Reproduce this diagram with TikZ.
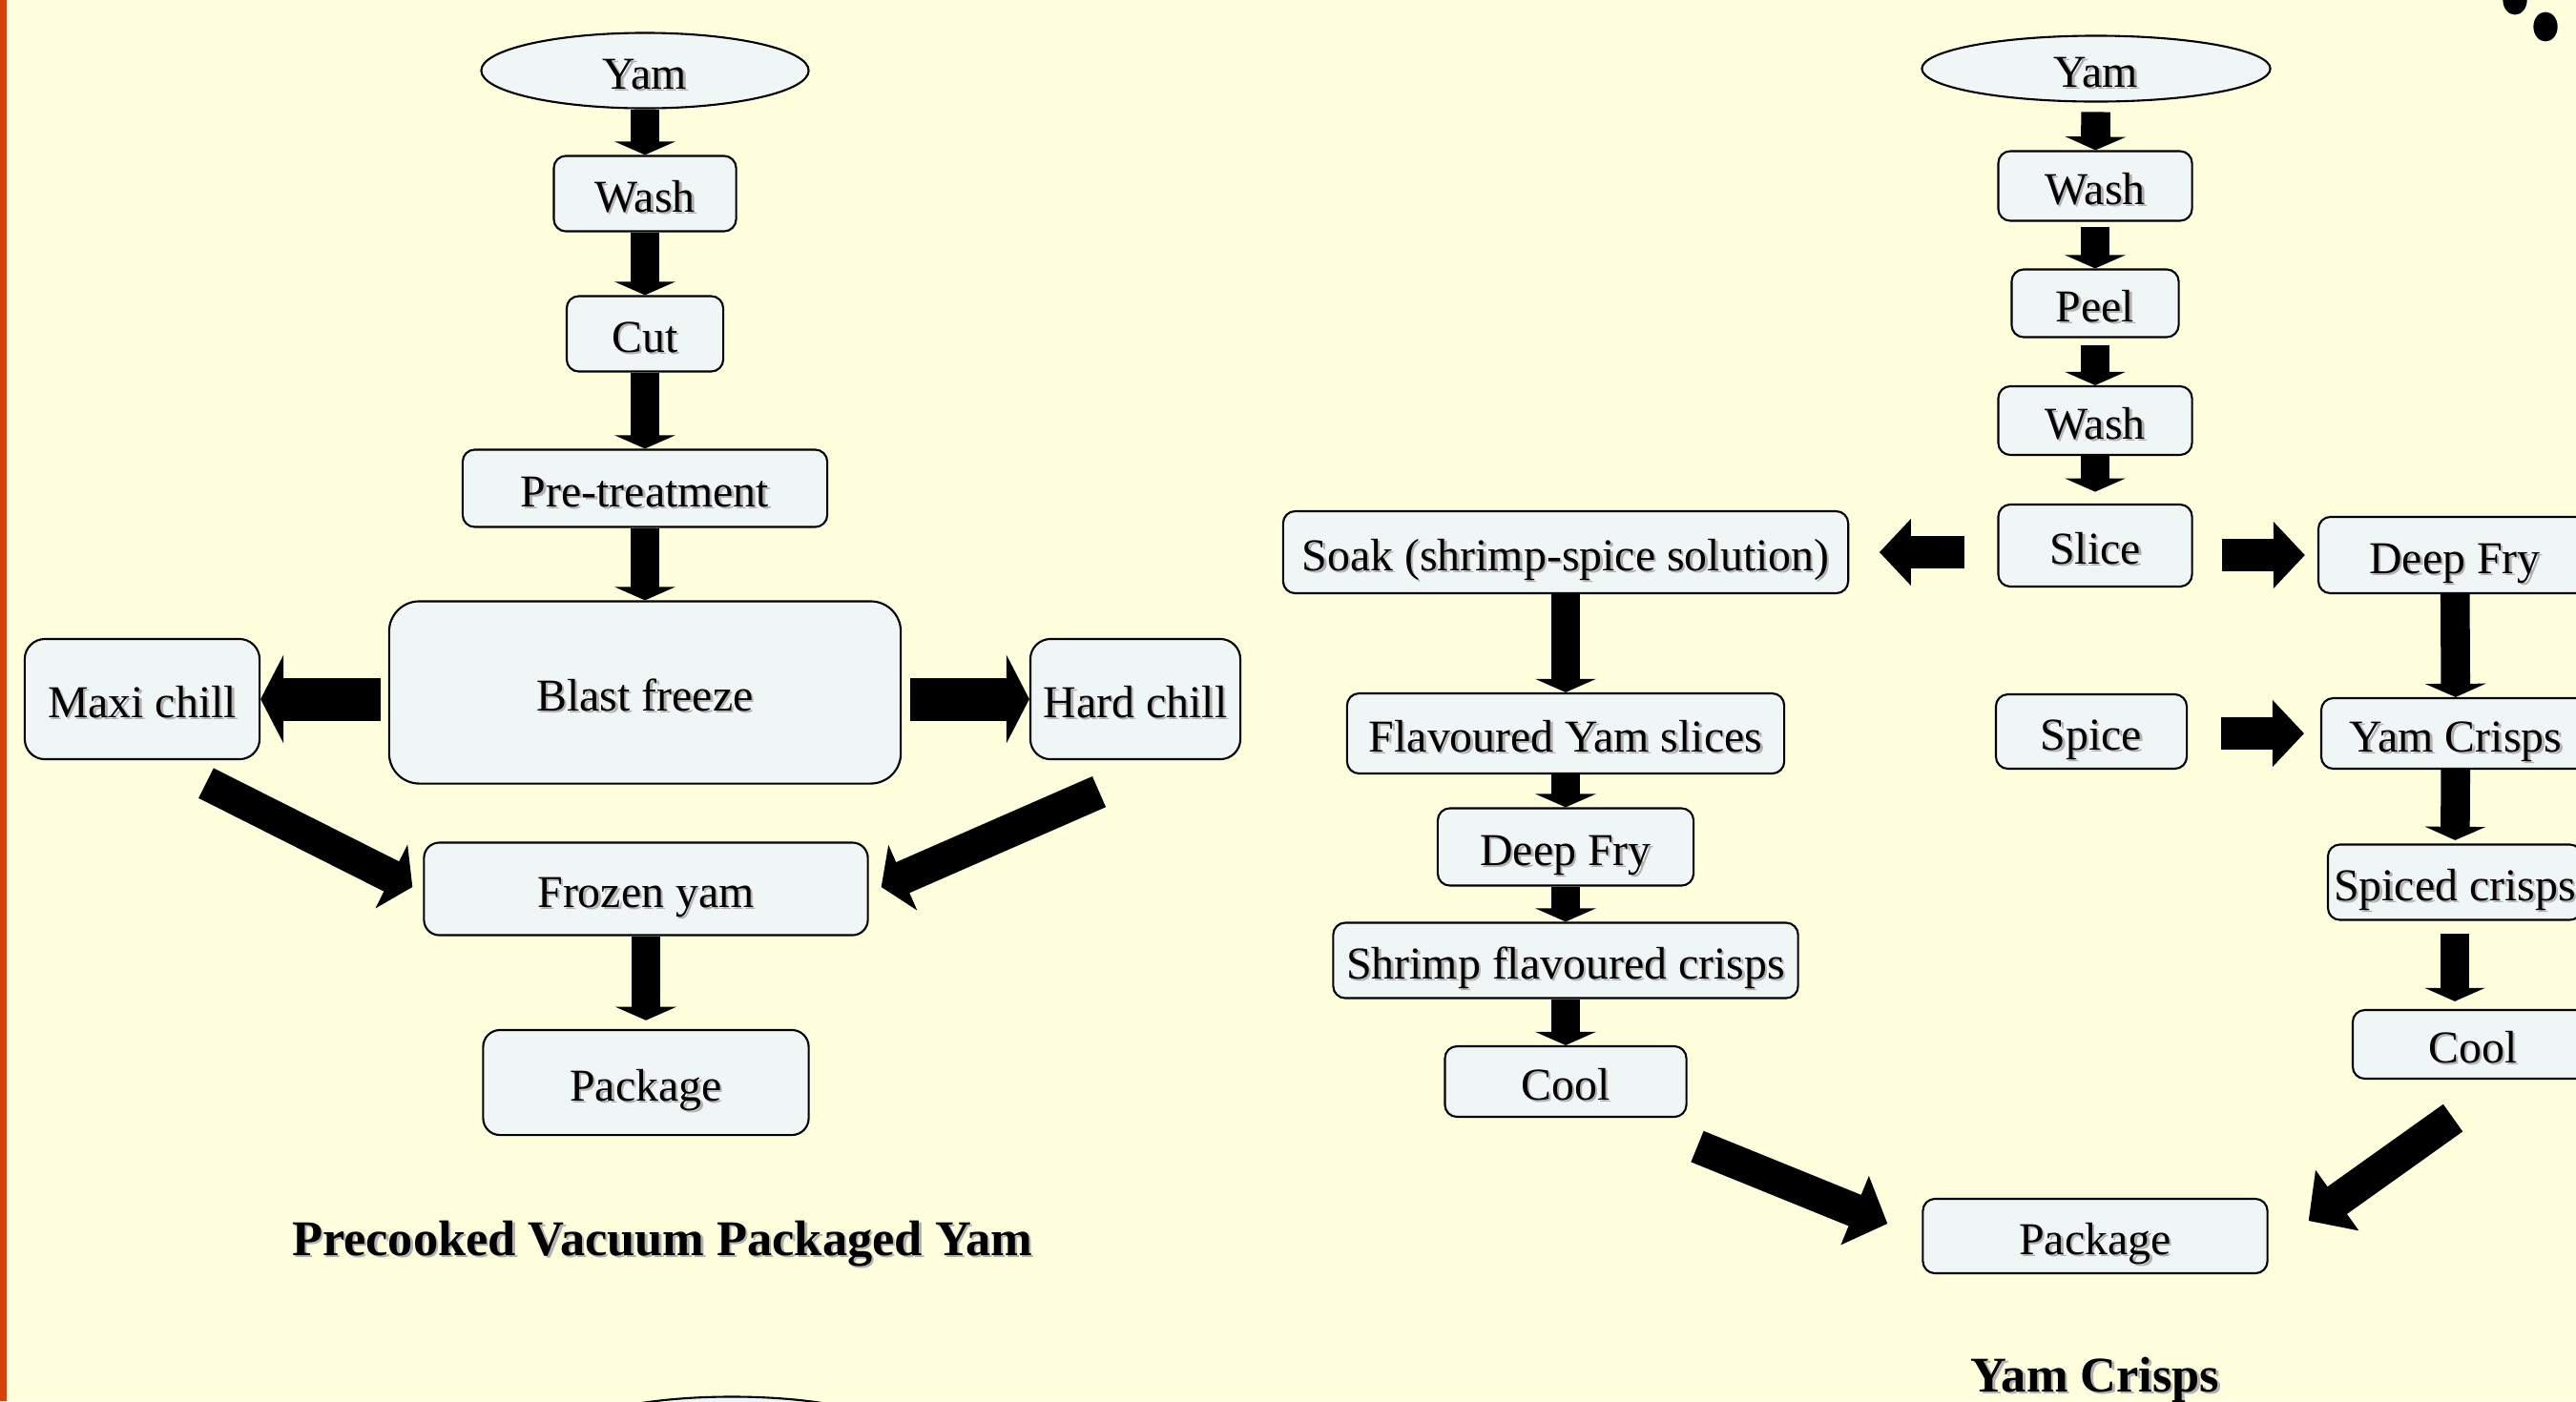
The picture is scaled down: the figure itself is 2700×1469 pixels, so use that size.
\documentclass[tikz,border=0pt]{standalone}
\usepackage{fontspec}
\setmainfont{Liberation Serif}
\usetikzlibrary{shapes.geometric,arrows.meta}

\definecolor{fondo}{RGB}{255,255,221}
\definecolor{cajafondo}{RGB}{240,246,246}
\definecolor{naranja}{RGB}{214,66,14}

\newcommand{\texto}{\fontsize{13.6pt}{16pt}\selectfont}
\newcommand{\titulo}{\fontsize{14.9pt}{18pt}\selectfont\bfseries}
\newcommand{\sombra}[1]{\rlap{\kern0.7pt\raisebox{-0.7pt}{\color{black!30}#1}}#1}

\tikzset{
  caja/.style={draw, line width=0.6pt, rounded corners=3.6pt, fill=cajafondo,
    inner sep=0pt, font=\texto, text height=11pt, text depth=0pt},
  ovalo/.style={ellipse, draw, line width=0.6pt, fill=cajafondo,
    inner sep=0pt, font=\texto, text height=11pt, text depth=0pt},
  flecha/.style={line width=8.7pt, -{Triangle[width=18pt,length=4pt]}},
  flechaH/.style={line width=12.8pt, -{Triangle[width=26pt,length=6.8pt]}},
  flechaR/.style={line width=9.7pt, -{Triangle[width=19.4pt,length=9.4pt]}},
  flechaD/.style={line width=10pt, -{Triangle[width=21pt,length=7pt]}},
  flechaDD/.style={line width=10pt, -{Triangle[width=21.6pt,length=10.5pt]}}
}

\begin{document}
\begin{tikzpicture}[x=0.01cm, y=-0.01cm]
    \useasboundingbox (0,0) rectangle (2700,1469);
    \clip (0,0) rectangle (2700,1469);

    % Fondo
    \fill[fondo] (0,0) rectangle (2700,1469);
    \fill[naranja] (0,0) rectangle (7,1469);
    \fill (2636,0) ellipse [x radius=3.6pt, y radius=4.4pt];
    \fill (2668,28) ellipse [x radius=3.6pt, y radius=4.4pt];

    % Diagrama izquierdo
    \node[ovalo, minimum width=3.43cm, minimum height=0.79cm] (yamA) at (676,74) {\sombra{Yam}};
    \node[caja, minimum width=1.91cm, minimum height=0.79cm] (washA) at (676,203) {\sombra{Wash}};
    \node[caja, minimum width=1.64cm, minimum height=0.79cm] (cutA) at (676,350) {\sombra{Cut}};
    \node[caja, minimum width=3.82cm, minimum height=0.81cm] (preA) at (676,512) {\sombra{Pre-treatment}};
    \node[caja, rounded corners=9pt, minimum width=5.36cm, minimum height=1.91cm] (blastA) at (676,726) {\sombra{Blast freeze}};
    \node[caja, rounded corners=6pt, minimum width=2.46cm, minimum height=1.26cm] (maxiA) at (149,733) {\sombra{Maxi chill}};
    \node[caja, rounded corners=6pt, minimum width=2.20cm, minimum height=1.26cm] (hardA) at (1190,733) {\sombra{Hard chill}};
    \node[caja, rounded corners=4.6pt, minimum width=4.65cm, minimum height=0.97cm] (frozenA) at (677,932) {\sombra{Frozen yam}};
    \node[caja, rounded corners=5pt, minimum width=3.41cm, minimum height=1.10cm] (packA) at (677,1135) {\sombra{Package}};
    \node[font=\titulo] (tituloA) at (694,1305) {\sombra{Precooked Vacuum Packaged Yam}};
    \node[ovalo, minimum width=3.43cm, minimum height=0.79cm] (yamC) at (767,1504) {};

    \draw[flecha] (yamA) -- (washA);
    \draw[flecha] (washA) -- (cutA);
    \draw[flecha] (cutA) -- (preA);
    \draw[flecha] (preA) -- (blastA);
    \draw[flechaH, shorten <=2.3pt] (blastA.west |- maxiA) -- (maxiA.east);
    \draw[flechaH, shorten <=2.6pt] (blastA.east |- hardA) -- (hardA.west);
    \draw[flechaD] ([shift={(67,24)}]maxiA.south) -- ([shift={(-11,-2)}]frozenA.west);
    \draw[flechaD] ([shift={(-38,33)}]hardA.south) -- ([shift={(13,-2)}]frozenA.east);
    \draw[flecha, shorten >=2.6pt] (frozenA) -- (packA);

    % Diagrama derecho
    \node[ovalo, minimum width=3.65cm, minimum height=0.69cm] (yamB) at (2197,72) {\sombra{Yam}};
    \node[caja, minimum width=2.03cm, minimum height=0.73cm] (washB) at (2196,195) {\sombra{Wash}};
    \node[caja, minimum width=1.75cm, minimum height=0.71cm] (peelB) at (2196,318) {\sombra{Peel}};
    \node[caja, minimum width=2.03cm, minimum height=0.72cm] (washC) at (2196,441) {\sombra{Wash}};
    \node[caja, minimum width=2.03cm, minimum height=0.86cm] (sliceB) at (2196,572) {\sombra{Slice}};
    \node[caja, minimum width=5.92cm, minimum height=0.86cm] (soakB) at (1641,579) {\sombra{Soak (shrimp-spice solution)}};
    \node[caja, minimum width=2.86cm, minimum height=0.80cm] (dfryB) at (2573,582) {\sombra{Deep Fry}};
    \node[caja, minimum width=2.00cm, minimum height=0.78cm] (spiceB) at (2192,767) {\sombra{Spice}};
    \node[caja, minimum width=2.82cm, minimum height=0.74cm] (ycrispB) at (2574,769) {\sombra{Yam Crisps}};
    \node[caja, minimum width=2.66cm, minimum height=0.79cm] (spicedB) at (2573,925) {\sombra{Spiced crisps}};
    \node[caja, minimum width=2.52cm, minimum height=0.72cm] (coolR) at (2592,1095) {\sombra{Cool}};
    \node[caja, minimum width=4.58cm, minimum height=0.84cm] (flavB) at (1641,769) {\sombra{Flavoured Yam slices}};
    \node[caja, minimum width=2.68cm, minimum height=0.81cm] (dfryL) at (1641,888) {\sombra{Deep Fry}};
    \node[caja, minimum width=4.87cm, minimum height=0.79cm] (shrimpB) at (1641,1007) {\sombra{Shrimp flavoured crisps}};
    \node[caja, minimum width=2.53cm, minimum height=0.74cm] (coolL) at (1641,1134) {\sombra{Cool}};
    \node[caja, minimum width=3.61cm, minimum height=0.78cm] (packB) at (2196,1296) {\sombra{Package}};
    \node[font=\titulo] (tituloB) at (2196,1448) {\sombra{Yam Crisps}};

    \draw[flecha, shorten <=2.8pt] (yamB) -- (washB);
    \draw[flecha, shorten <=1.4pt] (washB) -- (peelB);
    \draw[flecha, shorten <=2pt] (peelB) -- (washC);
    \draw[flecha, shorten >=3.5pt] (washC) -- (sliceB);
    \draw[flechaR, shorten <=9.7pt, shorten >=9pt] (sliceB.west |- soakB) -- (soakB.east);
    \draw[flechaR, shorten <=8.5pt, shorten >=3.7pt] (sliceB.east |- dfryB) -- (dfryB.west);
    \draw[flecha] (soakB) -- (flavB);
    \draw[flecha] (flavB) -- (dfryL);
    \draw[flecha] (dfryL) -- (shrimpB);
    \draw[flecha] (shrimpB) -- (coolL);
    \draw[flecha] (dfryB) -- (ycrispB);
    \draw[flechaR, shorten <=10pt, shorten >=4.8pt] (spiceB.east |- ycrispB) -- (ycrispB.west);
    \draw[flecha, shorten >=1pt] (ycrispB) -- (spicedB);
    \draw[flecha, shorten <=3.7pt, shorten >=2.3pt] (spicedB.south) -- (spicedB.south |- coolR.north);
    \draw[flechaDD] ([shift={(138,30)}]coolL.south) -- ([shift={(-36,-13)}]packB.west);
    \draw[flechaDD] ([shift={(-21,40)}]coolR.south) -- ([shift={(42,-16)}]packB.east);
\end{tikzpicture}
\end{document}
